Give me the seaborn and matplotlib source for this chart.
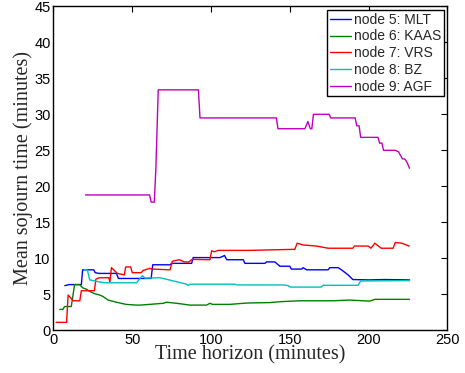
import numpy as np
import pandas as pd
import matplotlib
matplotlib.use("Agg")
import matplotlib.pyplot as plt
import seaborn as sns

# ---- data ----
labels = ["node 5: MLT", "node 6: KAAS", "node 7: VRS", "node 8: BZ", "node 9: AGF"]

mlt_x = [7.2, 10, 17.7, 18.5, 25.5, 26.5, 29, 40, 41.2, 62.0, 63.0, 74, 75, 87.7, 88.7, 105.6,
         107.8, 108.5, 110, 120.5, 121.5, 134.2, 135.3, 140.5, 143.7, 150, 151, 157.5, 158.5,
         160.6, 174.3, 175.4, 180.7, 182.8, 187, 190, 200, 210, 226]
mlt_y = [6.2, 6.35, 6.35, 8.4, 8.4, 8.0, 7.9, 7.9, 7.2, 7.2, 9.1, 9.1, 9.3, 9.3, 10.1, 10.1,
         10.3, 10.4, 9.8, 9.8, 9.3, 9.3, 9.5, 9.5, 8.9, 8.9, 8.5, 8.5, 8.7,
         8.4, 8.4, 8.7, 8.7, 8.4, 7.7, 7.05, 7.0, 7.05, 7.0]

kaas_x = [4.0, 6.0, 7.0, 11.3, 13.4, 16.6, 18.5, 21, 23, 26, 29.3, 31.4, 34.6, 40, 46, 52.6, 55,
          61, 69.7, 71.8, 78.2, 86.6, 97.2, 99.3, 101, 112, 120.5, 124.7, 137.4, 143.7, 156.4,
          177.5, 188, 200.7, 204, 226]
kaas_y = [2.9, 2.9, 3.3, 3.3, 6.35, 6.35, 5.9, 5.7, 5.4, 5.1, 4.9, 4.7, 4.2, 3.9, 3.6, 3.5, 3.5,
          3.6, 3.75, 3.9, 3.75, 3.5, 3.5, 3.75, 3.6, 3.6, 3.75, 3.8, 3.85, 3.97, 4.1,
          4.1, 4.2, 4.05, 4.3, 4.3]

vrs_x = [1.7, 8.3, 9.3, 12.6, 16.7, 17.7, 26.0, 26.9, 29.0, 35.2, 35.8, 36.8, 40.5, 45.0, 45.8,
         49.0, 50.0, 55.7, 56.8, 61.0, 63.0, 74.0, 75.5, 80, 83, 86, 88, 99.3, 100.4, 102, 104.6,
         124.7, 153.2, 154.7, 158.5, 167, 174.3, 190, 191, 199.8, 201.5, 204, 208, 215.6, 217,
         221, 225.8]
vrs_y = [1.1, 1.1, 4.9, 4.1, 4.1, 5.5, 5.5, 7.1, 7.3, 7.3, 6.7, 8.7, 7.9, 7.7, 8.8,
         8.8, 8.0, 8.0, 8.3, 8.6, 8.5, 8.4, 9.6, 9.8, 9.5, 9.5, 9.85, 9.8, 11.05, 10.9, 11.1,
         11.1, 11.25, 12.1, 11.85, 11.7, 11.4, 11.4, 11.7, 11.7, 11.4, 12.1, 11.4, 11.4, 12.2,
         12.1, 11.7]

bz_x = [19.5, 21.5, 23.0, 29.5, 33, 52.8, 54.5, 56.5, 58.0, 67.5, 78.2, 84.5, 85.6, 86.5, 115.2,
        116.2, 146, 149, 150.5, 170, 171, 193.4, 195, 226]
bz_y = [8.4, 8.4, 7.0, 6.7, 6.6, 6.6, 7.1, 7.6, 7.25, 7.3, 6.75, 6.4, 6.2, 6.4, 6.4,
        6.3, 6.3, 6.2, 6.0, 6.0, 6.25, 6.25, 6.85, 6.9]

agf_x = [20.3, 61, 62, 64, 65, 66.5, 92, 93, 141.5, 142.5, 159.6, 161.5, 163, 164, 165, 175,
         176, 191.5, 192.5, 194, 195, 206, 207, 208.5, 209.5, 217, 219, 221.5, 223, 224.5, 226]
agf_y = [18.8, 18.8, 17.8, 17.8, 22.5, 33.4, 33.4, 29.5, 29.5, 28.0, 28.0, 29.0, 28.0, 28.0, 30.0,
         30.0, 29.5, 29.5, 28.4, 28.4, 26.8, 26.8, 26.0, 26.0, 25.0, 25.0, 24.8, 23.8, 23.8, 23.3,
         22.5]

xticks = [0, 50, 100, 150, 200, 250]
yticks = [0, 5, 10, 15, 20, 25, 30, 35, 40, 45]

series = [(mlt_x, mlt_y), (kaas_x, kaas_y), (vrs_x, vrs_y), (bz_x, bz_y), (agf_x, agf_y)]
frames = []
for lab, (xs, ys) in zip(labels, series):
    frames.append(pd.DataFrame({"time": xs, "sojourn": ys, "node": lab}))
df = pd.concat(frames, ignore_index=True)

colors = ["#0000ff", "#008000", "#ff0000", "#00bfbf", "#bf00bf"]

sns.set_style("white")
plt.rcParams["font.family"] = ["Liberation Sans", "DejaVu Sans"]

fig = plt.figure(figsize=(4.65, 3.73), dpi=100)
ax = fig.add_axes([0.115, 0.1145, 0.847, 0.8685])

sns.lineplot(data=df, x="time", y="sojourn", hue="node", palette=colors,
             estimator=None, sort=False, units="node", ax=ax, linewidth=1.0)

ax.set_xlim(0, 250)
ax.set_ylim(0, 45)
ax.set_xticks(xticks)
ax.set_yticks(yticks)
ax.tick_params(direction="in", top=True, right=True, length=4, width=0.8,
               labelsize=10.5, colors="black", pad=2)
for s in ax.spines.values():
    s.set_visible(True)
    s.set_color("black")
    s.set_linewidth(1.0)

ax.set_xlabel("Time horizon (minutes)", family="Liberation Serif", fontsize=14.5, labelpad=-1)
ax.set_ylabel("Mean sojourn time (minutes)", family="Liberation Serif", fontsize=14.5, labelpad=1)

leg = ax.legend(loc="upper right", fontsize=10, frameon=True, fancybox=False,
                framealpha=1, edgecolor="black", borderaxespad=0.25, handlelength=1.5,
                handletextpad=0.2, labelspacing=0.2, borderpad=0.2, title=None)
leg.get_frame().set_linewidth(1.0)

fig.savefig("out.png", dpi=100)
